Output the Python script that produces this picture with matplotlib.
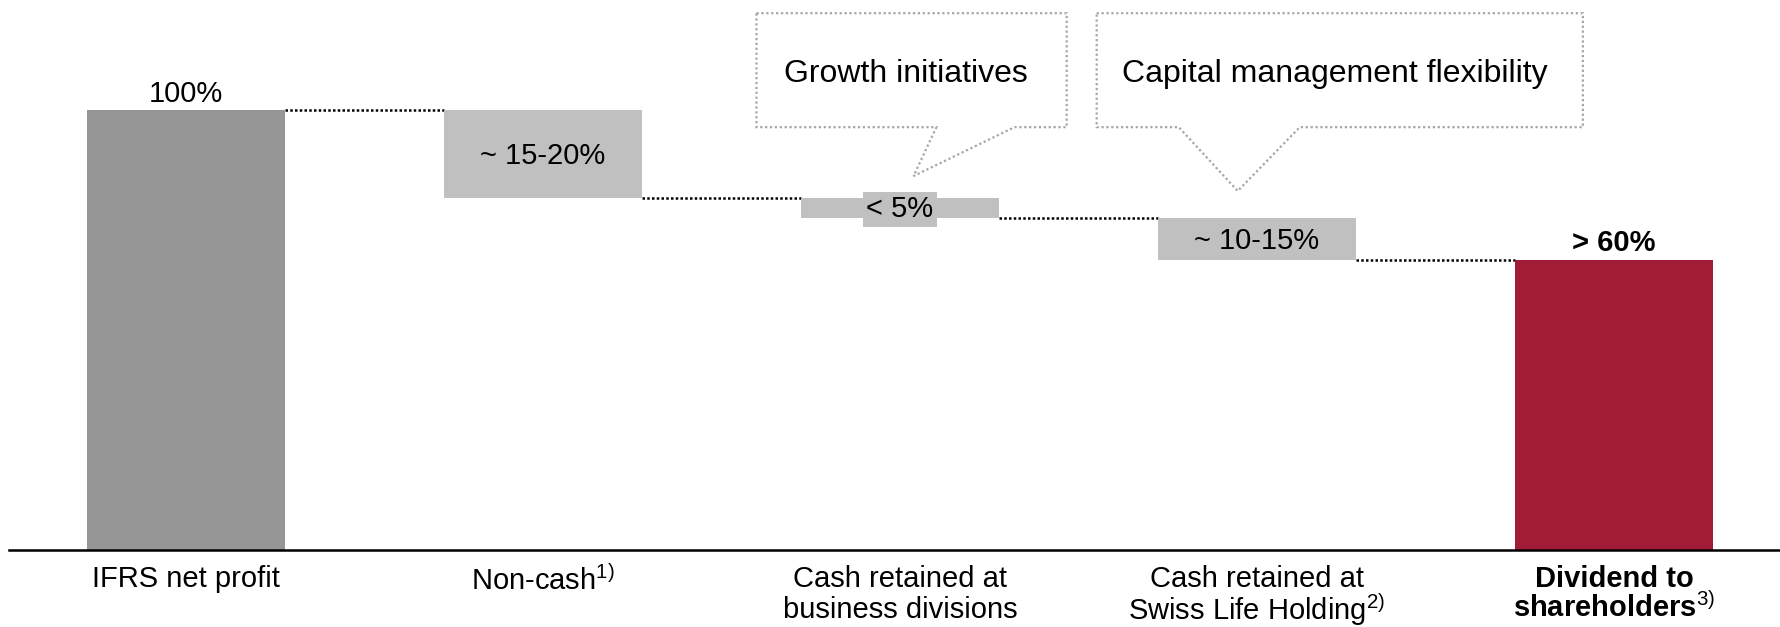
import numpy as np
import matplotlib
matplotlib.use("Agg")
import matplotlib.pyplot as plt
from matplotlib.patches import Polygon

plt.rcParams['font.family'] = ['Liberation Sans', 'DejaVu Sans']
plt.rcParams['mathtext.fontset'] = 'custom'
plt.rcParams['mathtext.rm'] = 'Liberation Sans'
plt.rcParams['mathtext.it'] = 'Liberation Sans'
plt.rcParams['mathtext.bf'] = 'Liberation Sans:bold'

# data (share of IFRS net profit, %)
categories = ["IFRS net profit", "Non-cash$^{\\mathrm{1)}}$",
              "Cash retained at\nbusiness divisions",
              "Cash retained at\nSwiss Life Holding$^{\\mathrm{2)}}$",
              "Dividend to\nshareholders$^{\\mathrm{3)}}$"]
start_value = 100
deductions = [20, 4.5, 9.5]
final_value = 66
value_labels = ["100%", "~ 15-20%", "< 5%", "~ 10-15%", "> 60%"]
callout_texts = ["Growth initiatives", "Capital management flexibility"]

c_total = "#969696"
c_step = "#c0c0c0"
c_final = "#a01c37"
c_callout = "#a6a6a6"

fig = plt.figure(figsize=(17.81, 6.27), dpi=100)
ax = fig.add_axes([9 / 1781, 77 / 627, 1 - 9 / 1781, 550 / 627])

x = np.arange(len(categories))
width = 0.555

# waterfall geometry
tops = [start_value]
bottoms = [0]
level = start_value
for d in deductions:
    tops.append(level)
    bottoms.append(level - d)
    level -= d
tops.append(final_value)
bottoms.append(0)
heights = np.array(tops) - np.array(bottoms)
colors = [c_total] + [c_step] * len(deductions) + [c_final]

ax.bar(x, heights, bottom=bottoms, width=width, color=colors, zorder=2)

# dotted connectors
for i in range(len(x) - 1):
    lvl = bottoms[i] if i > 0 else tops[i]
    ax.plot([x[i] + width / 2, x[i + 1] - width / 2], [lvl, lvl],
            color="black", lw=1.8, ls=(0, (1, 0.9)), zorder=1)

# value labels
ax.annotate(value_labels[0], (x[0], tops[0]), xytext=(0, 6), textcoords="offset points",
            ha="center", va="baseline", fontsize=21)
for i in range(1, len(x) - 1):
    mid = (tops[i] + bottoms[i]) / 2
    if i == 2:
        ax.text(x[i], mid - 0.3, value_labels[i], ha="center", va="center", fontsize=21,
                zorder=3, bbox=dict(boxstyle="square,pad=0.12", fc=c_step, ec="none"))
    else:
        ax.text(x[i], mid - 0.5, value_labels[i], ha="center", va="center", fontsize=21, zorder=3)
ax.annotate(value_labels[-1], (x[-1], tops[-1]), xytext=(0, 6), textcoords="offset points",
            ha="center", va="baseline", fontsize=21, fontweight="bold")

# callout boxes (layout in axis units)
callouts = [
    dict(x0=1.598, x1=2.467, base=(2.102, 2.321), tip=(2.038, 85.0)),
    dict(x0=2.551, x1=3.913, base=(2.781, 3.120), tip=(2.946, 81.6)),
]
box_top, box_bottom = 122.0, 96.1
for co, txt in zip(callouts, callout_texts):
    pts = [(co["x0"], box_top), (co["x1"], box_top), (co["x1"], box_bottom),
           (co["base"][1], box_bottom), co["tip"], (co["base"][0], box_bottom),
           (co["x0"], box_bottom)]
    ax.add_patch(Polygon(pts, closed=True, fill=False, ec=c_callout, lw=1.6,
                         ls=(0, (1, 1.2)), clip_on=False, zorder=1))
    ax.text((co["x0"] + co["x1"]) / 2 - 0.015, 108.2, txt, ha="center", va="center",
            fontsize=23)

ax.set_xlim(-0.496, 4.468)
ax.set_ylim(0, 125)
for s in ["top", "right", "left"]:
    ax.spines[s].set_visible(False)
ax.spines["bottom"].set_linewidth(1.8)
ax.set_yticks([])
ax.set_xticks(x)
ax.set_xticklabels(categories, fontsize=21, linespacing=1.12)
ax.tick_params(axis="x", length=0, pad=11)
for lab in ax.get_xticklabels():
    if "$" in lab.get_text() and "\n" in lab.get_text():
        lab.set_linespacing(0.95)
ax.get_xticklabels()[-1].set_fontweight("bold")

fig.savefig("out.png", dpi=100)
